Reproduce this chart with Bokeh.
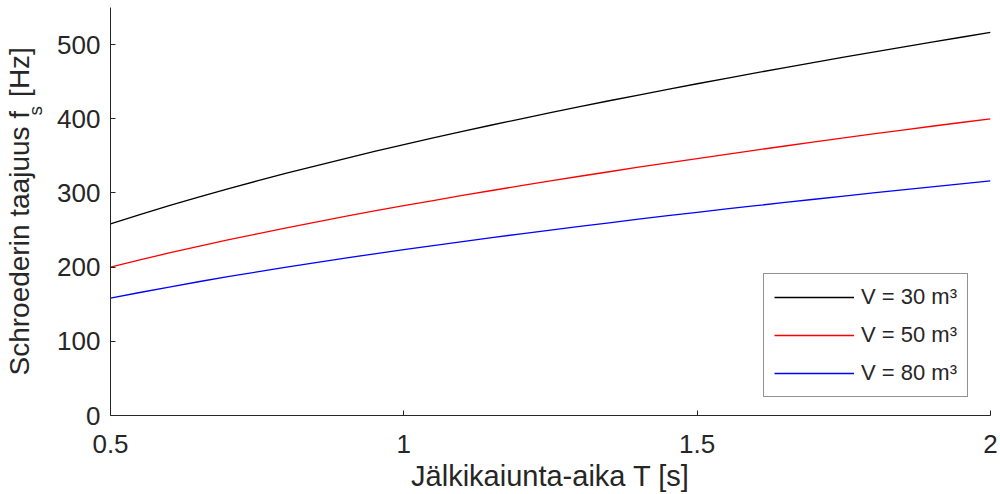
from bokeh.embed import file_html
from bokeh.models import FixedTicker, Legend, LegendItem, Range1d, Title
from bokeh.plotting import figure
from bokeh.resources import INLINE

# Reverberation time T [s]
reverb_time = [0.5, 0.55, 0.6, 0.65, 0.7, 0.75, 0.8, 0.85, 0.9, 0.95,
               1.0, 1.05, 1.1, 1.15, 1.2, 1.25, 1.3, 1.35, 1.4, 1.45,
               1.5, 1.55, 1.6, 1.65, 1.7, 1.75, 1.8, 1.85, 1.9, 1.95, 2.0]

# Schroeder frequency f_s [Hz] for three room volumes
fs_v30 = [258.2, 270.8, 282.8, 294.4, 305.5, 316.2, 326.6, 336.6, 346.4, 355.9,
          365.1, 374.2, 383.0, 391.6, 400.0, 408.2, 416.3, 424.3, 432.0, 439.7,
          447.2, 454.6, 461.9, 469.0, 476.1, 483.0, 489.9, 496.7, 503.3, 509.9,
          516.4]
fs_v50 = [200.0, 209.8, 219.1, 228.0, 236.6, 244.9, 253.0, 260.8, 268.3, 275.7,
          282.8, 289.8, 296.6, 303.3, 309.8, 316.2, 322.5, 328.6, 334.7, 340.6,
          346.4, 352.1, 357.8, 363.3, 368.8, 374.2, 379.5, 384.7, 389.9, 395.0,
          400.0]
fs_v80 = [158.1, 165.8, 173.2, 180.3, 187.1, 193.6, 200.0, 206.2, 212.1, 218.0,
          223.6, 229.1, 234.5, 239.8, 244.9, 250.0, 255.0, 259.8, 264.6, 269.3,
          273.9, 278.4, 282.8, 287.2, 291.5, 295.8, 300.0, 304.1, 308.2, 312.2,
          316.2]

series_labels = ["V = 30 m³", "V = 50 m³", "V = 80 m³"]
series_values = [fs_v30, fs_v50, fs_v80]
series_colors = ["#000000", "#ff0000", "#0000ff"]

x_ticks = [0.5, 1, 1.5, 2]
x_tick_labels = ["0.5", "1", "1.5", "2"]
y_ticks = [0, 100, 200, 300, 400, 500]

x_label = "Jälkikaiunta-aika T [s]"
# y title: main text with room left for the subscript "s" after the "f"
y_label_main = "Schroederin taajuus f\u2002[Hz]"
y_label_sub = "s"

FONT = "Liberation Sans"
INK = "#262626"

p = figure(
    width=1000, height=494,
    x_range=Range1d(0.5, 2.0), y_range=Range1d(0, 550),
    output_backend="svg", toolbar_location=None,
    min_border_left=110, min_border_right=10,
    min_border_top=7, min_border_bottom=79,
)
p.grid.visible = False
p.outline_line_color = None
p.background_fill_color = "white"
p.border_fill_color = "white"

for ax in (p.xaxis[0], p.yaxis[0]):
    ax.axis_line_color = INK
    ax.axis_line_width = 1
    ax.major_tick_line_color = INK
    ax.major_tick_in = 5
    ax.major_tick_out = 0
    ax.minor_tick_line_color = None
    ax.major_label_text_font = FONT
    ax.major_label_text_font_size = "26px"
    ax.major_label_text_color = INK

p.xaxis.ticker = FixedTicker(ticks=x_ticks)
p.xaxis.major_label_overrides = {t: s for t, s in zip(x_ticks, x_tick_labels)}
p.xaxis.major_label_standoff = 19
p.xaxis.axis_label = x_label
p.xaxis.axis_label_text_font = FONT
p.xaxis.axis_label_text_font_size = "29px"
p.xaxis.axis_label_text_font_style = "normal"
p.xaxis.axis_label_text_color = INK
p.xaxis.axis_label_standoff = 4

p.yaxis.ticker = FixedTicker(ticks=y_ticks)
p.yaxis.major_label_standoff = 10

renderers = []
for vals, color in zip(series_values, series_colors):
    r = p.line(reverb_time, vals, line_color=color, line_width=1.3)
    renderers.append(r)

legend = Legend(
    items=[LegendItem(label=lab, renderers=[r]) for lab, r in zip(series_labels, renderers)],
    location=(653, 18),
    margin=0,
    padding=10,
    spacing=12,
    glyph_width=80,
    glyph_height=26,
    label_height=26,
    label_standoff=7,
    label_text_font=FONT,
    label_text_font_size="22px",
    label_text_color=INK,
    border_line_color=INK,
    border_line_width=1,
    background_fill_color="white",
    background_fill_alpha=1.0,
)
p.add_layout(legend, "center")

# y-axis title: subscript column next to the tick labels, main text pulled
# inwards so the subscript sits just after the "f"
p.add_layout(Title(
    text=y_label_sub, align="left", offset=300, standoff=18,
    text_font=FONT, text_font_size="19px", text_font_style="normal",
    text_color=INK,
), "left")
p.add_layout(Title(
    text=y_label_main, align="left", offset=40, standoff=-42,
    text_font=FONT, text_font_size="28px", text_font_style="normal",
    text_color=INK,
), "left")

open("out.html", "w").write(file_html(p, INLINE))
